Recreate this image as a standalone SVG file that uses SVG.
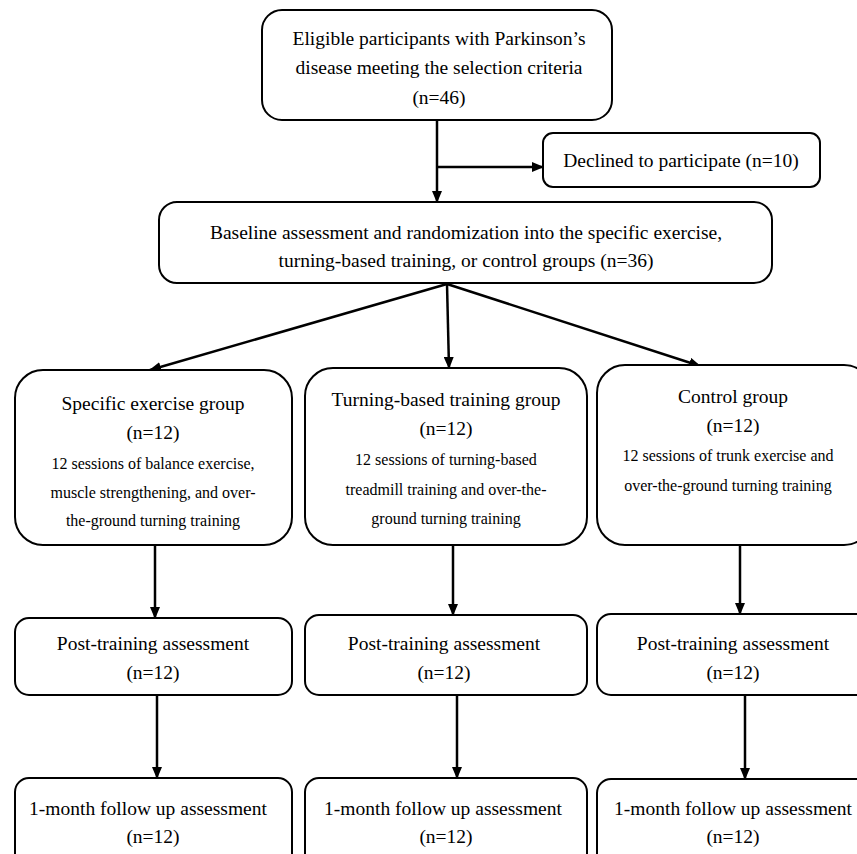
<svg xmlns="http://www.w3.org/2000/svg" width="857" height="854" viewBox="0 0 857 854">
<style>
.box{fill:#fff;stroke:#000;stroke-width:2}
.t{font-family:"Liberation Serif","Times New Roman",serif;font-size:19.5px;fill:#000;text-anchor:middle}
.s{font-family:"Liberation Serif","Times New Roman",serif;font-size:16px;fill:#000;text-anchor:middle}
.c{stroke:#000;stroke-width:2.5;fill:none;marker-end:url(#ah)}
</style>
<defs>
<marker id="ah" markerWidth="12" markerHeight="10" refX="11" refY="5" orient="auto" markerUnits="userSpaceOnUse" viewBox="0 0 12 10">
<path d="M0,0 L12,5 L0,10 z" fill="#000"/>
</marker>
</defs>
<rect width="857" height="854" fill="#fff"/>
<g id="connectors">
<line class="c" x1="437" y1="120" x2="437" y2="202"/>
<line class="c" x1="437" y1="167" x2="543" y2="167"/>
<line class="c" x1="447" y1="284" x2="150" y2="370"/>
<line class="c" x1="447" y1="284" x2="449" y2="368"/>
<line class="c" x1="447" y1="284" x2="700" y2="366"/>
<line class="c" x1="155" y1="545" x2="155" y2="618"/>
<line class="c" x1="453" y1="545" x2="453" y2="615"/>
<line class="c" x1="740" y1="545" x2="740" y2="614"/>
<line class="c" x1="157" y1="695" x2="157" y2="778"/>
<line class="c" x1="457" y1="695" x2="457" y2="778"/>
<line class="c" x1="745" y1="695" x2="745" y2="779"/>
</g>
<g id="eligible">
<rect class="box" x="262" y="10" width="350" height="110" rx="20"/>
<text class="t" x="439" y="45">Eligible participants with Parkinson’s</text>
<text class="t" x="439" y="74">disease meeting the selection criteria</text>
<text class="t" x="439" y="104">(n=46)</text>
</g>
<g id="declined">
<rect class="box" x="543" y="133" width="277" height="54" rx="10"/>
<text class="t" x="681" y="167">Declined to participate (n=10)</text>
</g>
<g id="baseline">
<rect class="box" x="159" y="202" width="613" height="81" rx="18"/>
<text class="t" x="466" y="239">Baseline assessment and randomization into the specific exercise,</text>
<text class="t" x="466" y="267">turning-based training, or control groups (n=36)</text>
</g>
<g id="specific">
<rect class="box" x="15" y="370" width="277" height="175" rx="28"/>
<text class="t" x="153" y="410">Specific exercise group</text>
<text class="t" x="153" y="439">(n=12)</text>
<text class="s" x="153" y="469">12 sessions of balance exercise,</text>
<text class="s" x="153" y="498">muscle strengthening, and over-</text>
<text class="s" x="153" y="526">the-ground turning training</text>
</g>
<g id="turning">
<rect class="box" x="305" y="368" width="282" height="177" rx="28"/>
<text class="t" x="446" y="406">Turning-based training group</text>
<text class="t" x="446" y="435">(n=12)</text>
<text class="s" x="446" y="465">12 sessions of turning-based</text>
<text class="s" x="446" y="495">treadmill training and over-the-</text>
<text class="s" x="446" y="524">ground turning training</text>
</g>
<g id="control">
<rect class="box" x="597" y="365" width="275" height="180" rx="28"/>
<text class="t" x="733" y="403">Control group</text>
<text class="t" x="733" y="432">(n=12)</text>
<text class="s" x="728" y="461">12 sessions of trunk exercise and</text>
<text class="s" x="728" y="491">over-the-ground turning training</text>
</g>
<g id="post1">
<rect class="box" x="15" y="618" width="277" height="77" rx="14"/>
<text class="t" x="153" y="650">Post-training assessment</text>
<text class="t" x="153" y="679">(n=12)</text>
</g>
<g id="post2">
<rect class="box" x="305" y="615" width="282" height="80" rx="14"/>
<text class="t" x="444" y="650">Post-training assessment</text>
<text class="t" x="444" y="679">(n=12)</text>
</g>
<g id="post3">
<rect class="box" x="597" y="614" width="275" height="81" rx="14"/>
<text class="t" x="733" y="650">Post-training assessment</text>
<text class="t" x="733" y="679">(n=12)</text>
</g>
<g id="follow1">
<rect class="box" x="15" y="778" width="277" height="90" rx="14"/>
<text class="t" x="148" y="815">1-month follow up assessment</text>
<text class="t" x="153" y="843">(n=12)</text>
</g>
<g id="follow2">
<rect class="box" x="305" y="778" width="282" height="90" rx="14"/>
<text class="t" x="443" y="815">1-month follow up assessment</text>
<text class="t" x="446" y="843">(n=12)</text>
</g>
<g id="follow3">
<rect class="box" x="597" y="779" width="275" height="90" rx="14"/>
<text class="t" x="733" y="815">1-month follow up assessment</text>
<text class="t" x="733" y="843">(n=12)</text>
</g>
</svg>
